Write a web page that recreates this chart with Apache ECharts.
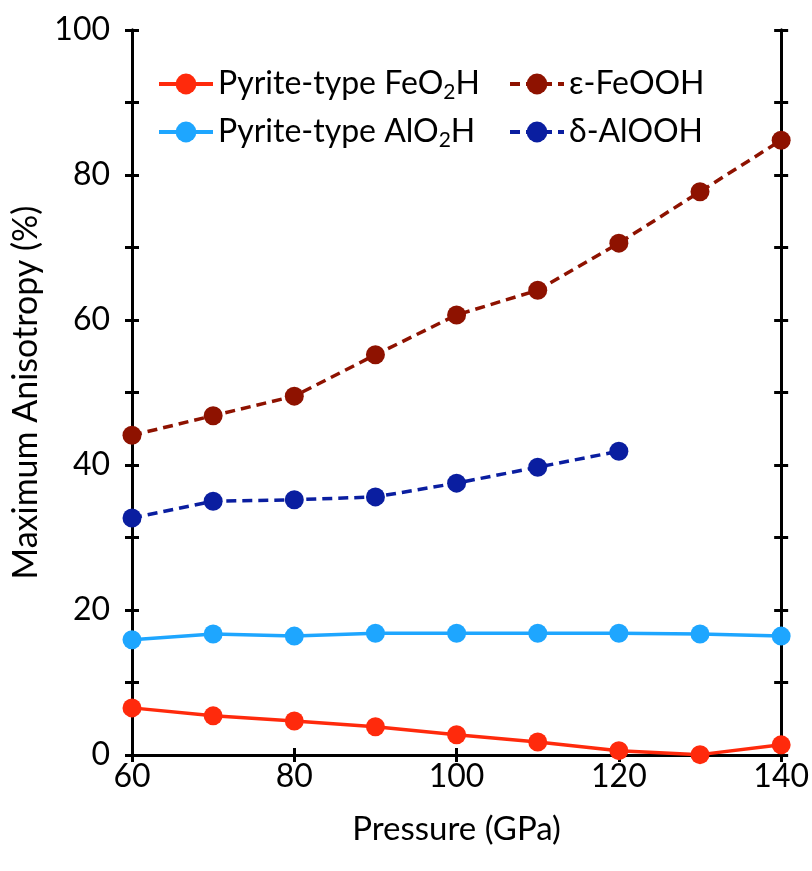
<!DOCTYPE html>
<html>
<head>
<meta charset="utf-8">
<script src="https://cdn.jsdelivr.net/npm/echarts@6/dist/echarts.min.js"></script>
<style>
  html, body { margin: 0; padding: 0; background: #fff; }
  #chart { width: 812px; height: 871px; }
</style>
</head>
<body>
<div id="chart"></div>
<script>
// Pressure steps (GPa)
const pressures = [60, 70, 80, 90, 100, 110, 120, 130, 140];

// Maximum anisotropy (%) for each phase
const pyriteFeO2H = [6.5, 5.4, 4.7, 3.9, 2.8, 1.8, 0.6, 0.05, 1.4];
const pyriteAlO2H = [15.9, 16.7, 16.4, 16.8, 16.8, 16.8, 16.8, 16.7, 16.4];
const epsFeOOH = [44.1, 46.8, 49.5, 55.2, 60.7, 64.1, 70.6, 77.7, 84.8];
const deltaAlOOH = [32.7, 35.0, 35.2, 35.6, 37.5, 39.7, 41.9];

const seriesNames = ['Pyrite-type FeO2H', 'Pyrite-type AlO2H', 'ε-FeOOH', 'δ-AlOOH'];
const seriesColors = ['#ff2a0c', '#1ea6ff', '#8e1200', '#0a1ea0'];

const FONT = 'Lato';
const X_MIN = 60, X_MAX = 140, Y_MIN = 0, Y_MAX = 100;

function pairs(values) {
  return values.map((v, i) => [pressures[i], v]);
}

const axisLine = { show: true, lineStyle: { color: '#000', width: 3 } };
const tickStyle = { color: '#000', width: 3 };

function xAxisDef(position, inside, showLabels) {
  return {
    type: 'value', min: X_MIN, max: X_MAX, interval: 20, position: position,
    axisLine: axisLine,
    axisTick: { show: true, inside: inside, length: 7, lineStyle: tickStyle },
    minorTick: { show: false },
    splitLine: { show: false },
    axisLabel: showLabels ? { show: true, fontFamily: FONT, fontSize: 32, color: '#000', margin: 6 } : { show: false },
    name: showLabels ? 'Pressure (GPa)' : '',
    nameLocation: 'middle', nameGap: 58,
    nameTextStyle: { fontFamily: FONT, fontSize: 33, color: '#000' }
  };
}

function yAxisDef(position, inside, showLabels) {
  return {
    type: 'value', min: Y_MIN, max: Y_MAX, interval: 20, position: position,
    axisLine: axisLine,
    axisTick: { show: true, inside: inside, length: 7, lineStyle: tickStyle },
    minorTick: { show: true, splitNumber: 2, length: 7, lineStyle: tickStyle },
    splitLine: { show: false },
    axisLabel: showLabels ? { show: true, fontFamily: FONT, fontSize: 32, color: '#000', margin: 22 } : { show: false },
    name: showLabels ? 'Maximum Anisotropy (%)' : '',
    nameLocation: 'middle', nameGap: 82, nameRotate: 90,
    nameTextStyle: { fontFamily: FONT, fontSize: 34, color: '#000' }
  };
}

function lineSeries(idx, values, dashed) {
  return {
    name: seriesNames[idx], type: 'line', xAxisIndex: 0, yAxisIndex: 0,
    data: pairs(values),
    symbol: 'circle', symbolSize: 19, showSymbol: true,
    color: seriesColors[idx],
    lineStyle: { width: 3.5, type: dashed ? [10, 6] : 'solid', color: seriesColors[idx] },
    itemStyle: { color: seriesColors[idx] },
    clip: false, z: 10 + idx
  };
}

const legendText = {
  fontFamily: FONT, fontSize: 32, color: '#000',
  rich: {
    n: { fontFamily: FONT, fontSize: 32, color: '#000' },
    s: { fontFamily: FONT, fontSize: 21, color: '#000', verticalAlign: 'bottom', padding: [17, 0, 0, 0] }
  }
};

function legendFormat(name) {
  const m = name.match(/^(.*O)2(H)$/);
  if (m) return '{n|' + m[1] + '}{s|2}{n|' + m[2] + '}';
  return '{n|' + name + '}';
}

function legendAt(name, left, top, dashed) {
  return {
    data: [name], left: left, top: top, orient: 'horizontal',
    itemWidth: 54, itemHeight: 26, itemGap: 11,
    formatter: legendFormat, textStyle: legendText,
    lineStyle: { width: 4, type: dashed ? [10, 6] : 'solid' },
    selectedMode: false, padding: 0
  };
}

const chart = echarts.init(document.getElementById('chart'), null, { renderer: 'canvas' });
chart.setOption({
  backgroundColor: '#fff',
  animation: false,
  grid: { left: 132, right: 26, top: 30, bottom: 116, containLabel: false },
  legend: [
    legendAt(seriesNames[0], 157, 68, false),
    legendAt(seriesNames[1], 157, 116, false),
    legendAt(seriesNames[2], 508, 68, true),
    legendAt(seriesNames[3], 508, 116, true)
  ],
  xAxis: [
    xAxisDef('bottom', false, true),
    xAxisDef('bottom', true, false),
    xAxisDef('top', false, false),
    xAxisDef('top', true, false)
  ],
  yAxis: [
    yAxisDef('left', false, true),
    yAxisDef('left', true, false),
    yAxisDef('right', false, false),
    yAxisDef('right', true, false)
  ],
  series: [
    lineSeries(0, pyriteFeO2H, false),
    lineSeries(1, pyriteAlO2H, false),
    lineSeries(2, epsFeOOH, true),
    lineSeries(3, deltaAlOOH, true)
  ]
});
</script>
</body>
</html>
